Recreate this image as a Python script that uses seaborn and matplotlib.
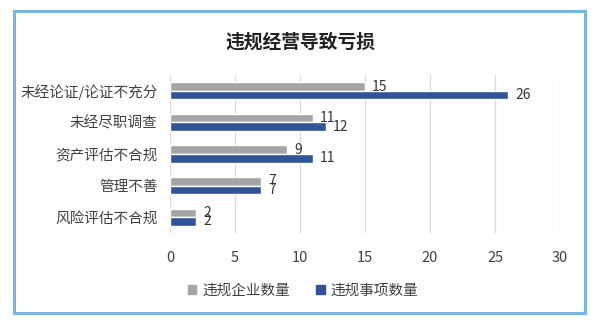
import matplotlib
matplotlib.use("Agg")
import matplotlib.pyplot as plt
from matplotlib.patches import Rectangle
import seaborn as sns
import pandas as pd

categories = ["未经论证/论证不充分", "未经尽职调查", "资产评估不合规", "管理不善", "风险评估不合规"]
enterprise_counts = [15, 11, 9, 7, 2]
item_counts = [26, 12, 11, 7, 2]
series_names = ["违规企业数量", "违规事项数量"]
x_ticks = [0, 5, 10, 15, 20, 25, 30]

df = pd.DataFrame({
    "类别": categories * 2,
    "数量": enterprise_counts + item_counts,
    "系列": [series_names[0]] * len(categories) + [series_names[1]] * len(categories),
})

sns.set_theme(style="white")
plt.rcParams["font.family"] = ["Noto Sans CJK SC", "DejaVu Sans"]

fig = plt.figure(figsize=(6.0, 3.29), dpi=100)
ax = fig.add_axes([170 / 600, 1 - 233 / 329, (560 - 170) / 600, (233 - 75) / 329])

palette = {series_names[0]: "#A5A5A5", series_names[1]: "#2F5597"}
sns.barplot(data=df, y="类别", x="数量", hue="系列", order=categories,
            hue_order=series_names, palette=palette, orient="h",
            width=0.54, saturation=1, ax=ax, legend=False, zorder=3)

for container in ax.containers:
    ax.bar_label(container, padding=5, fontsize=10, color="#333333")

ax.set_xlim(0, 30)
ax.set_ylim(4.5, -0.5)
ax.set_xticks(x_ticks)
ax.set_xticklabels([str(t) for t in x_ticks])
ax.xaxis.grid(True, color="#D9D9D9", linewidth=0.9, zorder=0)
ax.yaxis.grid(False)
for s in ax.spines.values():
    s.set_visible(False)
ax.tick_params(axis="x", length=0, pad=13, labelsize=10.5, labelcolor="#404040")
ax.tick_params(axis="y", length=0, pad=9, labelsize=10.5, labelcolor="#404040")
ax.set_xlabel("")
ax.set_ylabel("")

fig.text(0.5, 1 - 42 / 329, "违规经营导致亏损", ha="center", va="center",
         fontsize=13.5, fontweight="bold", color="#222222")

handles = [Rectangle((0, 0), 1, 1, color=palette[n]) for n in series_names]
fig.legend(handles, series_names, loc="center", bbox_to_anchor=(303 / 600, 1 - 291 / 329),
           ncol=2, frameon=False, fontsize=10.5, handlelength=0.6, handleheight=0.6,
           handletextpad=0.4, columnspacing=1.8, labelcolor="#404040")

fig.patches.append(Rectangle((14 / 600, 1 - 313 / 329), (585 - 14) / 600, (313 - 11) / 329,
                             transform=fig.transFigure, fill=False,
                             edgecolor="#7AB4E0", linewidth=2.2))

fig.savefig("out.png", dpi=100)
